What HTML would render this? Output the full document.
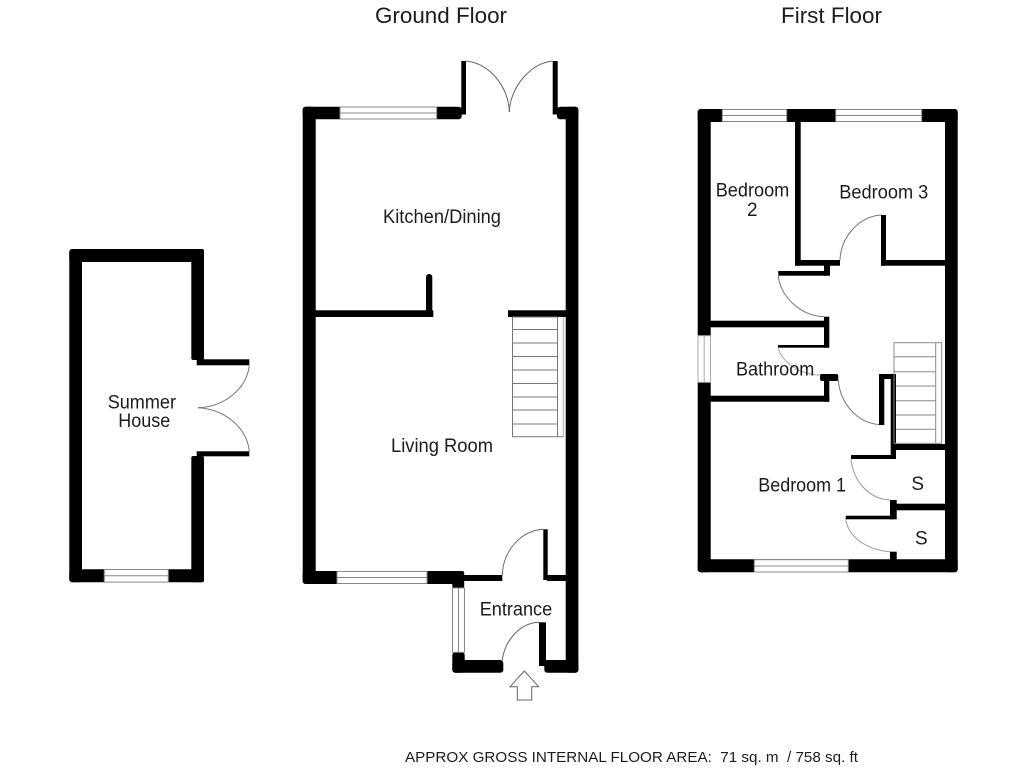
<!DOCTYPE html>
<html><head><meta charset="utf-8"><title>Floor Plan</title>
<style>html,body{margin:0;padding:0;background:#fff}svg{display:block}
text{font-family:"Liberation Sans",sans-serif;fill:#1c1c1c}</style></head>
<body>
<svg width="1024" height="768" viewBox="0 0 1024 768" xmlns="http://www.w3.org/2000/svg">
<rect width="1024" height="768" fill="#fff"/>

<!-- Summer house -->
<g fill="#000">
<rect x="69.3" y="249" width="134.7" height="13" rx="3"/>
<rect x="69.3" y="249" width="12.7" height="333.3" rx="3"/>
<rect x="191.3" y="249" width="12.7" height="111" rx="2"/>
<rect x="196.7" y="359.3" width="52.6" height="6"/>
<rect x="196.7" y="451.3" width="52.6" height="5"/>
<rect x="191.3" y="456" width="12.7" height="126.3" rx="2"/>
<rect x="69.3" y="569.3" width="134.7" height="13" rx="3"/>
</g>
<g fill="#fff" stroke="#888" stroke-width="1">
<rect x="104.3" y="569.5" width="64" height="12.6"/>
<line x1="104.3" y1="575.8" x2="168.3" y2="575.8"/>
</g>
<g fill="none" stroke="#777" stroke-width="1">
<path d="M249.3 365.3C247 388 225 407 198 407.7"/>
<path d="M249.3 451.3C247 428 225 409 198 407.7"/>
</g>

<!-- Ground floor walls -->
<g fill="#000">
<rect x="302.7" y="106.7" width="13" height="477.3" rx="3"/>
<rect x="302.7" y="106.7" width="159" height="12.6" rx="3"/>
<rect x="461.3" y="61" width="4.7" height="53.5"/>
<rect x="552.7" y="61" width="5" height="53.5"/>
<rect x="557" y="106.7" width="21.3" height="12.6" rx="3"/>
<rect x="565.7" y="106.7" width="12.7" height="566" rx="3"/>
<rect x="315" y="310.3" width="118.3" height="6.7"/>
<rect x="426" y="274" width="6.3" height="40" rx="3"/>
<rect x="508" y="310.3" width="58" height="6.7"/>
<rect x="302.7" y="571" width="161.3" height="13" rx="3"/>
<rect x="452.3" y="571" width="11.9" height="17" rx="2"/>
<rect x="464" y="575" width="38.3" height="6"/>
<rect x="543.3" y="529.3" width="4.4" height="50.7"/>
<rect x="547" y="575" width="19" height="6"/>
<rect x="452.3" y="652.3" width="12.4" height="20.4" rx="3"/>
<rect x="452.3" y="660" width="51" height="12.7" rx="3"/>
<rect x="539" y="622.3" width="7" height="43.7"/>
<rect x="544.3" y="660" width="34" height="12.7" rx="3"/>
</g>
<g fill="#fff" stroke="#888" stroke-width="1">
<rect x="340" y="107" width="96.7" height="12"/>
<line x1="340" y1="113" x2="436.7" y2="113"/>
<rect x="337" y="571.5" width="90" height="12"/>
<line x1="337" y1="577.5" x2="427" y2="577.5"/>
<rect x="452.5" y="588" width="12" height="64.3"/>
<line x1="458.5" y1="588" x2="458.5" y2="652.3"/>
</g>
<g fill="none" stroke="#666" stroke-width="1">
<path d="M466 61C490 63 509 88 509.3 112"/>
<path d="M552.7 61C530 63 510 88 509.3 112"/>
<path d="M502.3 575C503 550 522 530 543.3 529.3"/>
<path d="M502.3 660C505 640 520 623 539 622.3"/>
</g>
<!-- ground stairs -->
<g fill="none" stroke="#777" stroke-width="1">
<rect x="512.5" y="317" width="45" height="119.7"/>
<line x1="563.3" y1="317" x2="563.3" y2="436.7" stroke="#aaa"/>
<line x1="557" y1="436.7" x2="563.3" y2="436.7"/>
<path d="M512.5 329.5H557.5M512.5 343H557.5M512.5 356.5H557.5M512.5 370H557.5M512.5 383.5H557.5M512.5 397H557.5M512.5 410H557.5M512.5 424H557.5"/>
</g>
<!-- arrow -->
<path d="M524.3 671L538.7 686.7H531.7V700H517.3V686.7H510Z" fill="#fff" stroke="#666" stroke-width="1"/>

<!-- First floor walls -->
<g fill="#000">
<rect x="697.7" y="109" width="260" height="13" rx="3"/>
<rect x="697.7" y="109" width="13" height="463.3" rx="3"/>
<rect x="945" y="109" width="12.7" height="463.3" rx="3"/>
<rect x="697.7" y="559.3" width="260" height="13" rx="3"/>
<rect x="795" y="122" width="5.7" height="143.7"/>
<rect x="795" y="260" width="45" height="5.7"/>
<rect x="824" y="260" width="6" height="15.7"/>
<rect x="778.3" y="271" width="50" height="4.7"/>
<rect x="881" y="215" width="5" height="50.7"/>
<rect x="881" y="260" width="64" height="5.7"/>
<rect x="824" y="316.7" width="5.3" height="31"/>
<rect x="710" y="320.7" width="114" height="6.6"/>
<rect x="778" y="345" width="51" height="2.7"/>
<rect x="710" y="395.7" width="119.3" height="6"/>
<rect x="824" y="380" width="5.3" height="21.7"/>
<rect x="820" y="374" width="18.3" height="7" rx="2"/>
<rect x="879" y="375" width="5.3" height="50"/>
<rect x="879" y="374" width="17" height="5"/>
<rect x="890.7" y="374" width="5.3" height="85"/>
<rect x="894" y="444" width="51" height="6"/>
<rect x="851" y="455" width="45" height="4"/>
<rect x="890" y="500" width="6.7" height="19.3"/>
<rect x="890" y="503.7" width="55" height="6.6"/>
<rect x="845.7" y="515.7" width="48.3" height="3.6"/>
<rect x="890" y="551.7" width="6.7" height="8"/>
</g>
<g fill="#fff" stroke="#888" stroke-width="1">
<rect x="722.3" y="109.5" width="64.4" height="12"/>
<line x1="722.3" y1="115.5" x2="786.7" y2="115.5"/>
<rect x="835.7" y="109.5" width="86" height="12"/>
<line x1="835.7" y1="115.5" x2="921.7" y2="115.5"/>
<rect x="698" y="335.7" width="12.5" height="46.6" stroke="#aaa"/>
<line x1="704.2" y1="335.7" x2="704.2" y2="382.3" stroke="#aaa"/>
<rect x="754.3" y="559.7" width="94" height="12.3"/>
<line x1="754.3" y1="566" x2="848.3" y2="566"/>
</g>
<g fill="none" stroke="#777" stroke-width="1">
<path d="M840 260C841 236 860 216 881 215"/>
<path d="M778.3 275.7C780 296 800 316 824 316.7"/>
<path d="M778 347.7C782 362 800 375 820 375" stroke="#aaa"/>
<path d="M838.3 380C840 403 857 423 879 424.5"/>
<path d="M851 459C853 480 868 499 890 500" stroke="#999"/>
<path d="M845.7 519.3C848 536 866 550 890 551.7" stroke="#999"/>
</g>
<g fill="none" stroke="#888" stroke-width="1">
<rect x="894" y="342.7" width="47.7" height="100.6"/>
<line x1="935.7" y1="342.7" x2="935.7" y2="443.3"/>
<path d="M894 356.7H935.7M894 371.7H935.7M896 386H935.7M896 400.7H935.7M896 415H935.7M896 429.3H935.7"/>
</g>

<!-- Labels -->
<g font-size="19">
<text x="375" y="23" font-size="22" textLength="132" lengthAdjust="spacingAndGlyphs">Ground Floor</text>
<text x="781" y="23" font-size="22" textLength="101" lengthAdjust="spacingAndGlyphs">First Floor</text>
<text x="383" y="223" textLength="118" lengthAdjust="spacingAndGlyphs">Kitchen/Dining</text>
<text x="391" y="452" textLength="102" lengthAdjust="spacingAndGlyphs">Living Room</text>
<text x="479.7" y="615.7" textLength="72.5" lengthAdjust="spacingAndGlyphs">Entrance</text>
<text x="715.7" y="196.7" textLength="73.6" lengthAdjust="spacingAndGlyphs">Bedroom</text>
<text x="752.3" y="216" text-anchor="middle">2</text>
<text x="839.3" y="198.7" textLength="89" lengthAdjust="spacingAndGlyphs">Bedroom 3</text>
<text x="736" y="375.3" textLength="78.3" lengthAdjust="spacingAndGlyphs">Bathroom</text>
<text x="758.3" y="491.7" textLength="87.7" lengthAdjust="spacingAndGlyphs">Bedroom 1</text>
<text x="917.7" y="490" text-anchor="middle">S</text>
<text x="921.3" y="544.3" text-anchor="middle">S</text>
<text x="107.7" y="408.7" textLength="68.3" lengthAdjust="spacingAndGlyphs">Summer</text>
<text x="118.3" y="427" textLength="52" lengthAdjust="spacingAndGlyphs">House</text>
<text x="405" y="762" font-size="14.5" textLength="453" lengthAdjust="spacingAndGlyphs" xml:space="preserve">APPROX GROSS INTERNAL FLOOR AREA:  71 sq. m  / 758 sq. ft</text>
</g>
</svg>
</body></html>
